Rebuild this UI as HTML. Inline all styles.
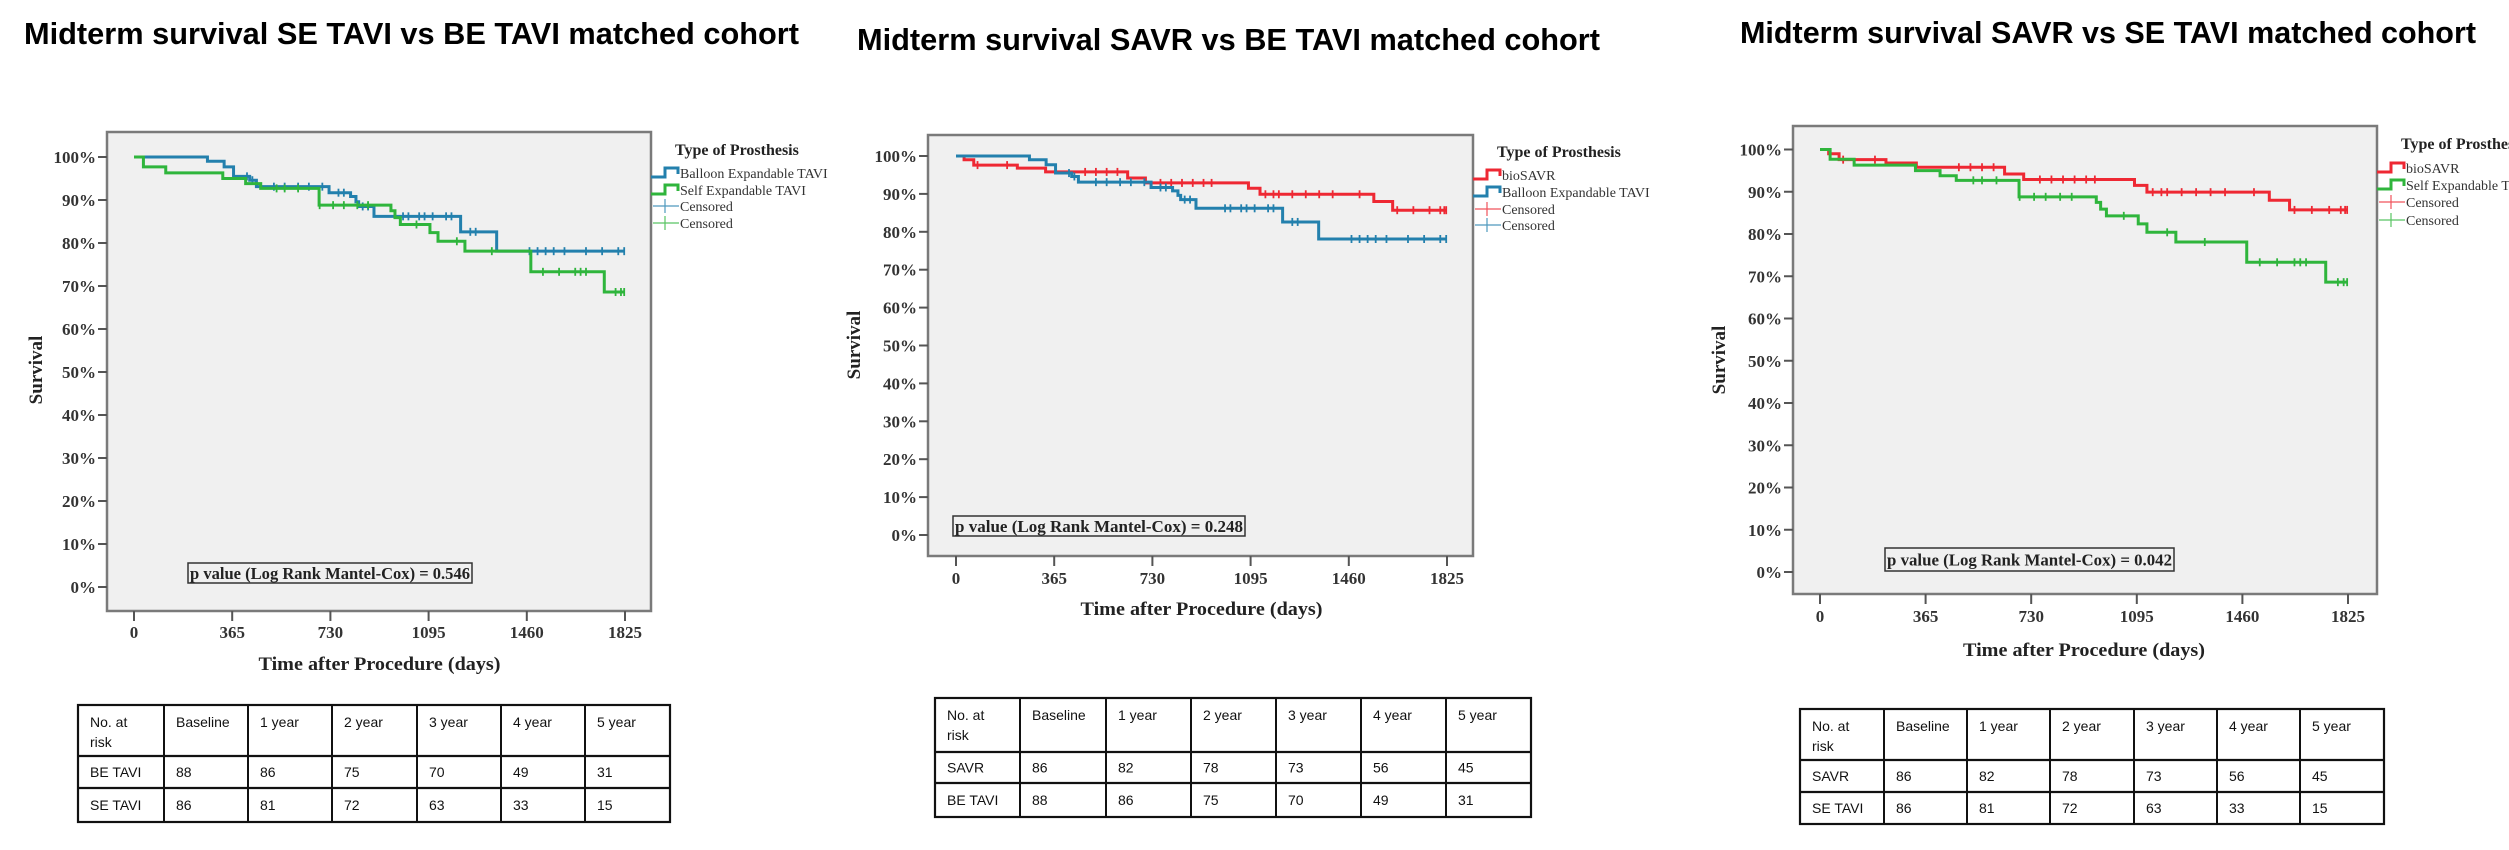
<!DOCTYPE html>
<html><head><meta charset="utf-8"><style>
html,body{margin:0;padding:0;background:#fff;overflow:hidden;width:2509px;height:850px}
svg{display:block}
.ser{font-family:"Liberation Serif",serif}
.tb{font-family:"Liberation Sans Narrow","Liberation Sans",sans-serif;font-size:14px;fill:#111}
</style></head><body>
<svg id="fig" width="2509" height="850" viewBox="0 0 2509 850" xmlns="http://www.w3.org/2000/svg">
<text x="24" y="44" font-family="Liberation Sans Narrow, Liberation Sans, sans-serif" font-weight="bold" font-size="31" textLength="775" lengthAdjust="spacingAndGlyphs">Midterm survival SE TAVI vs BE TAVI matched cohort</text>
<text x="857" y="50" font-family="Liberation Sans Narrow, Liberation Sans, sans-serif" font-weight="bold" font-size="31" textLength="743" lengthAdjust="spacingAndGlyphs">Midterm survival SAVR vs BE TAVI matched cohort</text>
<text x="1740" y="43" font-family="Liberation Sans Narrow, Liberation Sans, sans-serif" font-weight="bold" font-size="31" textLength="736" lengthAdjust="spacingAndGlyphs">Midterm survival SAVR vs SE TAVI matched cohort</text>
</svg>
<script>
// ---- data ----
const xTicks = [0, 365, 730, 1095, 1460, 1825];
const yTicks = [0, 10, 20, 30, 40, 50, 60, 70, 80, 90, 100];
// Balloon Expandable TAVI (step times in days, survival %)
const beTimes = [0, 273, 335, 370, 430, 455, 725, 805, 825, 835, 892, 1214, 1348];
const beSurv  = [100, 99.0, 97.7, 95.5, 94.6, 93.1, 91.7, 90.8, 89.6, 88.5, 86.2, 82.6, 78.1];
const beCens  = [420, 440, 520, 560, 610, 650, 700, 760, 780, 850, 870, 1000, 1020, 1060, 1080, 1110, 1160, 1180, 1250, 1270, 1470, 1500, 1530, 1560, 1600, 1680, 1740, 1800, 1822];
// Self Expandable TAVI
const seTimes = [0, 35, 118, 330, 415, 471, 688, 955, 970, 990, 1100, 1130, 1230, 1475, 1748];
const seSurv  = [100, 97.7, 96.3, 95.0, 93.8, 92.7, 88.8, 87.5, 85.9, 84.3, 82.4, 80.4, 78.1, 73.3, 68.6];
const seCens  = [530, 560, 610, 690, 740, 780, 830, 870, 1050, 1200, 1330, 1520, 1580, 1640, 1660, 1680, 1790, 1810, 1822];
// bioSAVR
const savrTimes = [0, 30, 66, 228, 333, 638, 704, 1087, 1130, 1553, 1623];
const savrSurv  = [100, 99.0, 97.6, 96.8, 95.8, 94.2, 92.9, 91.5, 89.9, 88.0, 85.7];
const savrCens  = [80, 190, 480, 520, 560, 600, 760, 800, 840, 880, 920, 950, 1150, 1180, 1200, 1250, 1300, 1350, 1400, 1500, 1640, 1700, 1760, 1800, 1815, 1822];
const pValues = ["0.546", "0.248", "0.042"];
const tableHeader = ["Baseline", "1 year", "2 year", "3 year", "4 year", "5 year"];
const riskBE = [88, 86, 75, 70, 49, 31];
const riskSE = [86, 81, 72, 63, 33, 15];
const riskSAVR = [86, 82, 78, 73, 56, 45];

const BLUE = "#2380ad", GREEN = "#2fb53c", RED = "#ee2833";
const NS = "http://www.w3.org/2000/svg";
const svg = document.getElementById("fig");
function mk(tag, attrs, parent) {
  const e = document.createElementNS(NS, tag);
  for (const k in attrs) e.setAttribute(k, attrs[k]);
  (parent || svg).appendChild(e);
  return e;
}
function stepAt(times, surv, t) {
  let v = surv[0];
  for (let i = 0; i < times.length; i++) if (times[i] <= t) v = surv[i];
  return v;
}

function panel(cfg) {
  const g = mk("g", {});
  
  
  const X = d => cfg.x0 + (d / 1825) * (cfg.x1 - cfg.x0);
  const Y = s => cfg.y0 - (s / 100) * (cfg.y0 - cfg.y100);
  const [bl, bt, br, bb] = cfg.box;
  const bg = mk("rect", {x: bl, y: bt, width: br - bl, height: bb - bt, fill: "#f0f0f0", stroke: "#7a7a7a", "stroke-width": 2.5}, g);
  
  
  // y ticks
  yTicks.forEach(v => {
    const y = Y(v);
    const tl = mk("line", {x1: bl - 9, x2: bl, y1: y, y2: y, stroke: "#555", "stroke-width": 2}, g);
    
    
    const t = mk("text", {x: bl - 11, y: y + 6, "text-anchor": "end", class: "ser", "font-weight": "bold", "font-size": 17, fill: "#333"}, g);
    
    
    t.textContent = v + "%";
  });
  xTicks.forEach(v => {
    const x = X(v);
    const tl = mk("line", {x1: x, x2: x, y1: bb, y2: bb + 10, stroke: "#555", "stroke-width": 2}, g);
    
    
    const t = mk("text", {x: x, y: cfg.xtY + 6, "text-anchor": "middle", class: "ser", "font-weight": "bold", "font-size": 17, fill: "#333"}, g);
    
    
    t.textContent = v;
  });
  const xt = mk("text", {x: (cfg.x0 + cfg.x1) / 2, y: cfg.xtitleY + 7, "text-anchor": "middle", class: "ser", "font-weight": "bold", "font-size": 19, fill: "#222", textLength: 242, lengthAdjust: "spacingAndGlyphs"}, g);
  
  
  xt.textContent = "Time after Procedure (days)";
  const yt = mk("text", {x: 0, y: 0, transform: `translate(${cfg.survX + 7},${cfg.survY}) rotate(-90)`, "text-anchor": "middle", class: "ser", "font-weight": "bold", "font-size": 19, fill: "#222"}, g);
  
  
  yt.textContent = "Survival";
  // series
  cfg.series.forEach(s => {
    let d = `M${X(0)},${Y(s.surv[0])}`;
    for (let i = 1; i < s.times.length; i++) {
      d += ` H${X(s.times[i])} V${Y(s.surv[i])}`;
    }
    d += ` H${X(1822)}`;
    const p = mk("path", {d: d, fill: "none", stroke: s.color, "stroke-width": 3}, g);
    
    
    s.cens.forEach(c => {
      const cx = X(c), cy = Y(stepAt(s.times, s.surv, c));
      const m = mk("line", {x1: cx, x2: cx, y1: cy - 4, y2: cy + 4, stroke: s.color, "stroke-width": 1.8}, g);
      
      
    });
  });
  // p value box
  const [pl, pt, pr, pb] = cfg.pbox;
  const pr1 = mk("rect", {x: pl, y: pt, width: pr - pl, height: pb - pt, fill: "#f0f0f0", stroke: "#333", "stroke-width": 1.5}, g);
  
  
  const pt1 = mk("text", {x: pl + 2, y: (pt + pb) / 2 + 6, class: "ser", "font-weight": "bold", "font-size": 17, fill: "#222", textLength: pr - pl - 4, lengthAdjust: "spacingAndGlyphs"}, g);
  
  
  pt1.textContent = "p value (Log Rank Mantel-Cox) = " + cfg.p;
  // legend
  const lt = mk("text", {x: cfg.legX + 24, y: cfg.legTitleY + 6, class: "ser", "font-weight": "bold", "font-size": 16, fill: "#222"}, g);
  
  
  lt.textContent = "Type of Prosthesis";
  const items = [
    {label: cfg.series[0].label, color: cfg.series[0].color, type: "line"},
    {label: cfg.series[1].label, color: cfg.series[1].color, type: "line"},
    {label: "Censored", color: cfg.series[0].color, type: "cens"},
    {label: "Censored", color: cfg.series[1].color, type: "cens"}];
  items.forEach((it, i) => {
    const y = cfg.legY[i];
    const lx = cfg.legX;
    let e;
    if (it.type === "line") {
      e = mk("path", {d: `M${lx},${y + 4} H${lx + 14} V${y - 5} H${lx + 27} V${y + 1}`, fill: "none", stroke: it.color, "stroke-width": 3}, g);
    } else {
      e = mk("path", {d: `M${lx + 2},${y} H${lx + 28} M${lx + 14},${y - 7} V${y + 7}`, fill: "none", stroke: it.color, "stroke-width": 1.2, opacity: 0.8}, g);
    }
    
    
    const t = mk("text", {x: lx + 29, y: y + 5, class: "ser", "font-size": 14, fill: "#333"}, g);
    
    
    t.textContent = it.label;
  });
  // table
  const cols = cfg.tcols, rows = cfg.trows;
  const tg = mk("g", {}, g);
  
  
  mk("rect", {x: cols[0], y: rows[0], width: cols[7] - cols[0], height: rows[3] - rows[0], fill: "#fff", stroke: "#111", "stroke-width": 2.2}, tg);
  cols.slice(1, 7).forEach(c => mk("line", {x1: c, x2: c, y1: rows[0], y2: rows[3], stroke: "#111", "stroke-width": 2}, tg));
  rows.slice(1, 3).forEach(r => mk("line", {x1: cols[0], x2: cols[7], y1: r, y2: r, stroke: "#111", "stroke-width": 2.2}, tg));
  const cell = (txt, ci, y) => {
    const t = mk("text", {x: cols[ci] + 12, y: y, class: "tb"}, tg);
    
    
    t.textContent = txt;
  };
  cell("No. at", 0, rows[0] + 22);
  cell("risk", 0, rows[0] + 42);
  tableHeader.forEach((h, i) => cell(h, i + 1, rows[0] + 22));
  const m1 = (rows[1] + rows[2]) / 2 + 5, m2 = (rows[2] + rows[3]) / 2 + 5;
  cell(cfg.rowNames[0], 0, m1);
  cell(cfg.rowNames[1], 0, m2);
  cfg.rowA.forEach((v, i) => cell(String(v), i + 1, m1));
  cfg.rowB.forEach((v, i) => cell(String(v), i + 1, m2));
}

panel({name: "chart-se-vs-be", box: [107, 132, 651, 611], x0: 134, x1: 625, y100: 157, y0: 587,
  xtY: 632, xtitleY: 663, survX: 35, survY: 370, pbox: [188, 563, 472, 583], p: pValues[0],
  legX: 651, legTitleY: 149, legY: [173, 190, 206, 223],
  series: [{key: "be-tavi", label: "Balloon Expandable TAVI", color: BLUE, times: beTimes, surv: beSurv, cens: beCens},
           {key: "se-tavi", label: "Self Expandable TAVI", color: GREEN, times: seTimes, surv: seSurv, cens: seCens}],
  tcols: [78, 164, 248, 332, 417, 501, 585, 670], trows: [705, 756, 788, 822],
  rowNames: ["BE TAVI", "SE TAVI"], rowA: riskBE, rowB: riskSE});

panel({name: "chart-savr-vs-be", box: [928, 135, 1473, 556], x0: 956, x1: 1447, y100: 156, y0: 535,
  xtY: 578, xtitleY: 608, survX: 853, survY: 345, pbox: [953, 516, 1245, 536], p: pValues[1],
  legX: 1473, legTitleY: 151, legY: [175, 192, 209, 225],
  series: [{key: "biosavr", label: "bioSAVR", color: RED, times: savrTimes, surv: savrSurv, cens: savrCens},
           {key: "be-tavi", label: "Balloon Expandable TAVI", color: BLUE, times: beTimes, surv: beSurv, cens: beCens}],
  tcols: [935, 1020, 1106, 1191, 1276, 1361, 1446, 1531], trows: [698, 752, 783, 817],
  rowNames: ["SAVR", "BE TAVI"], rowA: riskSAVR, rowB: riskBE});

panel({name: "chart-savr-vs-se", box: [1793, 126, 2377, 594], x0: 1820, x1: 2348, y100: 149.5, y0: 572,
  xtY: 616, xtitleY: 649, survX: 1718, survY: 360, pbox: [1885, 548, 2174, 571], p: pValues[2],
  legX: 2377, legTitleY: 143, legY: [168, 185, 202, 220],
  series: [{key: "biosavr", label: "bioSAVR", color: RED, times: savrTimes, surv: savrSurv, cens: savrCens},
           {key: "se-tavi", label: "Self Expandable TAVI", color: GREEN, times: seTimes, surv: seSurv, cens: seCens}],
  tcols: [1800, 1884, 1967, 2050, 2134, 2217, 2300, 2384], trows: [709, 760, 792, 824],
  rowNames: ["SAVR", "SE TAVI"], rowA: riskSAVR, rowB: riskSE});
</script>
</body></html>
